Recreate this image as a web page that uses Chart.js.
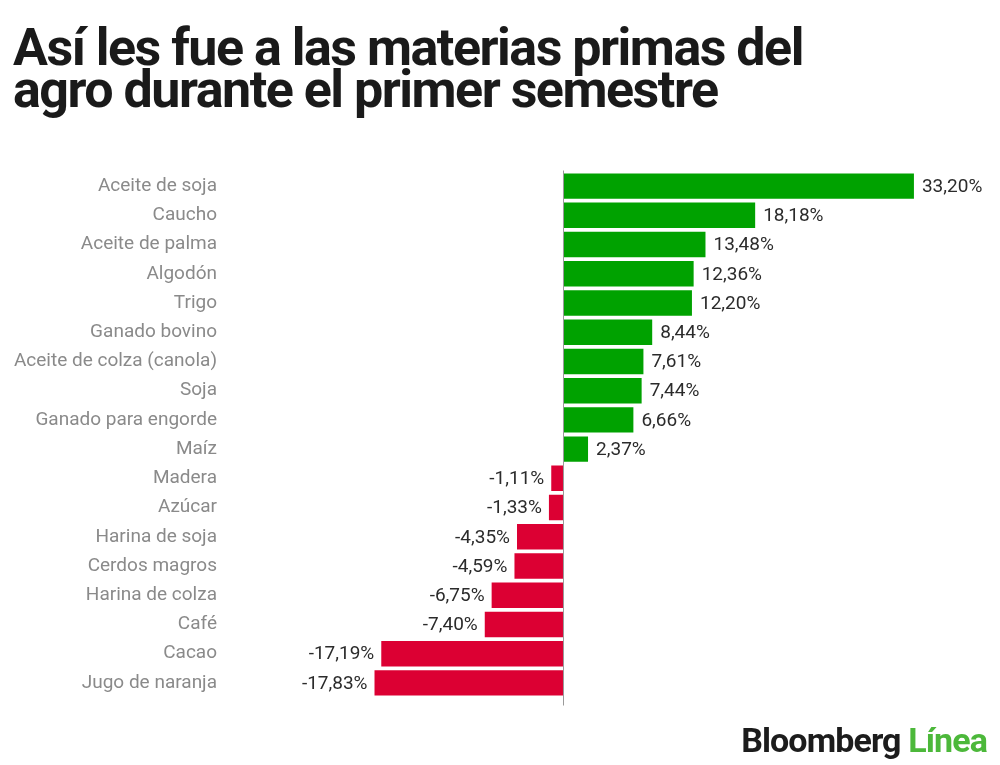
<!DOCTYPE html>
<html>
<head>
<meta charset="utf-8">
<script src="https://cdn.jsdelivr.net/npm/chart.js@4"></script>
<style>
  html, body { margin: 0; padding: 0; background: #fff; }
  #wrap { position: relative; width: 1000px; height: 765px; overflow: hidden; }
  #title {
    position: absolute; left: 13px; top: 27px; margin: 0;
    font-family: Roboto, sans-serif; font-weight: 700; font-size: 52px;
    line-height: 42px; letter-spacing: -1.5px; color: #1a1a1a;
  }
  #logo {
    position: absolute; right: 13px; top: 720px;
    font-family: Roboto, sans-serif; font-weight: 700; font-size: 34px;
    letter-spacing: -0.9px; color: #1c1c1c;
  }
  #logo span { color: #4cb83a; }
  canvas { position: absolute; left: 0; top: 0; }
</style>
</head>
<body>
<div id="wrap">
  <canvas id="chart" width="1000" height="765"></canvas>
  <h1 id="title">Así les fue a las materias primas del<br>agro durante el primer semestre</h1>
  <div id="logo">Bloomberg <span>Línea</span></div>
</div>
<script>
const commodities = ['Aceite de soja', 'Caucho', 'Aceite de palma', 'Algodón', 'Trigo', 'Ganado bovino',
    'Aceite de colza (canola)', 'Soja', 'Ganado para engorde', 'Maíz', 'Madera', 'Azúcar',
    'Harina de soja', 'Cerdos magros', 'Harina de colza', 'Café', 'Cacao', 'Jugo de naranja']
const changes = [33.20, 18.18, 13.48, 12.36, 12.20, 8.44, 7.61, 7.44, 6.66, 2.37,
    -1.11, -1.33, -4.35, -4.59, -6.75, -7.40, -17.19, -17.83]

const green = '#00a200'
const red = '#dc0033'

const fmt = v => v.toFixed(2).replace('.', ',') + '%'

const valueLabels = {
    id: 'valueLabels',
    afterDatasetsDraw(chart) {
        const ctx = chart.ctx
        const xs = chart.scales.x
        const area = chart.chartArea
        // zero line
        const x0 = Math.round(xs.getPixelForValue(0)) + 0.5
        ctx.save()
        ctx.strokeStyle = '#9a9a9a'
        ctx.lineWidth = 1
        ctx.beginPath()
        ctx.moveTo(x0, area.top - 1)
        ctx.lineTo(x0, area.bottom + 8)
        ctx.stroke()
        // values
        ctx.font = '19px Roboto, sans-serif'
        ctx.fillStyle = '#2b2b2b'
        ctx.textBaseline = 'middle'
        chart.getDatasetMeta(0).data.forEach((bar, i) => {
            const v = changes[i]
            if (v >= 0) {
                ctx.textAlign = 'left'
                ctx.fillText(fmt(v), bar.x + 8, bar.y + 1)
            } else {
                ctx.textAlign = 'right'
                ctx.fillText(fmt(v), bar.x - 7, bar.y + 1)
            }
        })
        ctx.restore()
    }
}

new Chart(document.getElementById('chart').getContext('2d'), {
    type: 'bar',
    data: {
        labels: commodities,
        datasets: [{
            data: changes,
            backgroundColor: changes.map(v => v >= 0 ? green : red),
            borderWidth: 0,
            barPercentage: 0.87,
            categoryPercentage: 1
        }]
    },
    options: {
        indexAxis: 'y',
        responsive: false,
        animation: false,
        layout: { padding: { top: 171.5, bottom: 67.5, right: 20, left: 0 } },
        plugins: { legend: { display: false }, tooltip: { enabled: false } },
        scales: {
            x: { display: false, min: -31.69, max: 39.45 },
            y: {
                afterFit(scale) { scale.width = 228 },
                grid: { display: false, drawTicks: false },
                border: { display: false },
                ticks: {
                    padding: 11,
                    color: '#8a8a8a',
                    font: { family: 'Roboto, sans-serif', size: 19 }
                }
            }
        }
    },
    plugins: [valueLabels]
})
</script>
</body>
</html>
